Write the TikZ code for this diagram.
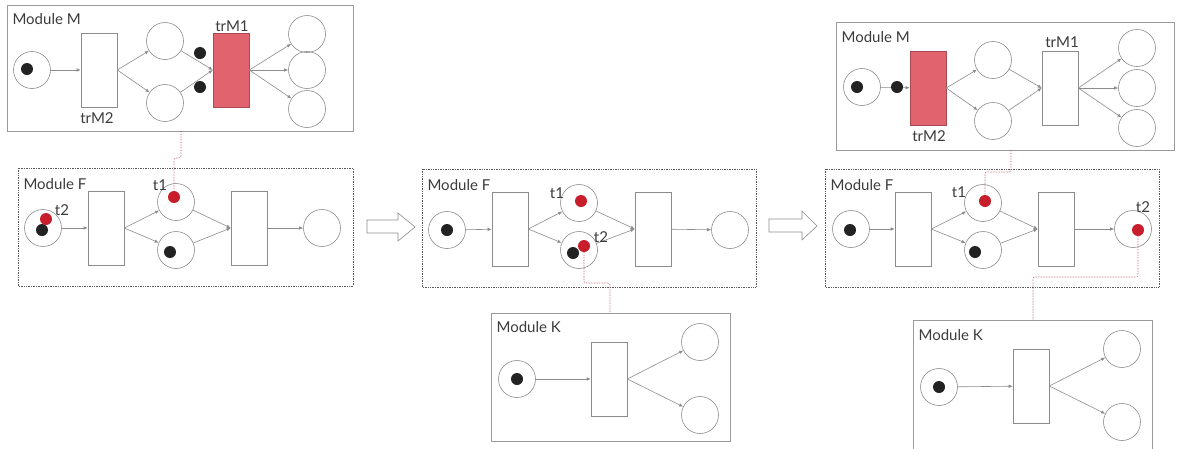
\documentclass[tikz,border=0pt]{standalone}
\usepackage{fontspec}
\setmainfont{Lato}
\usetikzlibrary{arrows.meta}

\definecolor{linegray}{HTML}{8C8C8C}
\definecolor{boxgray}{HTML}{9A9A9A}
\definecolor{ink}{HTML}{3C3C3C}
\definecolor{tokblack}{HTML}{222222}
\definecolor{tokred}{HTML}{C81E2C}
\definecolor{firered}{HTML}{E0636D}
\definecolor{linkred}{HTML}{B83A4A}

\begin{document}
\begin{tikzpicture}[x=1pt,y=-1pt,
    font=\fontsize{15}{17}\selectfont, text=ink,
    place/.style={circle,draw=linegray,line width=0.6pt,minimum size=37pt,inner sep=0pt},
    trans/.style={rectangle,draw=linegray,line width=0.6pt,minimum width=36pt,minimum height=74pt,inner sep=0pt},
    fired/.style={trans,fill=firered,draw=firered!75!black},
    tok/.style={circle,fill=tokblack,minimum size=12pt,inner sep=0pt},
    tokr/.style={circle,fill=tokred,minimum size=12pt,inner sep=0pt},
    arc/.style={draw=linegray,line width=0.6pt,-{Latex[length=4pt,width=3.5pt]}},
    module/.style={draw=boxgray,line width=0.8pt},
    fmodule/.style={draw=ink!85,line width=0.7pt,densely dotted},
    link/.style={draw=linkred,line width=0.6pt,densely dotted,rounded corners=2pt},
    bigarrow/.style={draw=linegray,line width=0.6pt,fill=white}]
    \clip (0,0) rectangle (1182,448);
    \fill[white] (0,0) rectangle (1182,448);

    % module M, before the step
    \begin{scope}[shift={(7,5)},name prefix=mA-]
        \draw[module] (0,0) rectangle (346,126);
        \coordinate (tap) at (174,126);
        \node[anchor=west] (title) at (2,14) {Module M};
        \node[place] (p0) at (25,65) {};
        \node[trans] (trM2) at (92,65) {};
        \node[place] (p1) at (158,36) {};
        \node[place] (p2) at (158,98) {};
        \node[fired] (trM1) at (224,65) {};
        \node[place] (p3) at (300,29) {};
        \node[place] (p4) at (300,65) {};
        \node[place] (p5) at (300,104) {};
        \node (lb2) at (90,113) {trM2};
        \node (lb1) at (225,21) {trM1};
        \draw[arc] (p0) -- (trM2);
        \foreach \p in {p1,p2} {
            \draw[arc] (trM2.east) -- (\p);
            \draw[arc] (\p) -- (trM1.west);
        }
        \foreach \p in {p3,p4,p5}
            \draw[arc] (trM1.east) -- (\p);
        \node[tok] (k0) at (20,64) {};
        \node[tok] (k1) at (193,48) {};
        \node[tok] (k2) at (193,82) {};
    \end{scope}

    % module F, three states
    \begin{scope}[shift={(18,168)},name prefix=fA-]
        \draw[fmodule] (0,0) rectangle (335,118);
        \node[anchor=west] (title) at (2,16) {Module F};
        \node[place] (p0) at (25,60) {};
        \node[trans] (tr1) at (88,60) {};
        \node[place] (p1) at (158,34) {};
        \node[place] (p2) at (158,82) {};
        \node[trans] (tr2) at (231,60) {};
        \node[place] (p3) at (304,60) {};
        \draw[arc] (p0) -- (tr1);
        \foreach \p in {p1,p2} {
            \draw[arc] (tr1.east) -- (\p);
            \draw[arc] (\p) -- (tr2.west);
        }
        \draw[arc] (tr2) -- (p3);
        \node[tok] (k0) at (24,62) {};
        \node[tokr] (t2) at (28,51) {};
        \node[tokr] (t1) at (156,29) {};
        \node[tok] (k1) at (152,84) {};
        \node (lt1) at (142,17) {t1};
        \node (lt2) at (44,42) {t2};
    \end{scope}

    \begin{scope}[shift={(422,169)},name prefix=fB-]
        \draw[fmodule] (0,0) rectangle (334,118);
        \node[anchor=west] (title) at (2,16) {Module F};
        \node[place] (p0) at (25,61) {};
        \node[trans] (tr1) at (88,60) {};
        \node[place] (p1) at (157,34) {};
        \node[place] (p2) at (157,81) {};
        \node[trans] (tr2) at (231,60) {};
        \node[place] (p3) at (308,61) {};
        \draw[arc] (p0) -- (tr1);
        \foreach \p in {p1,p2} {
            \draw[arc] (tr1.east) -- (\p);
            \draw[arc] (\p) -- (tr2.west);
        }
        \draw[arc] (tr2) -- (p3);
        \node[tok] (k0) at (25,61) {};
        \node[tokr] (t1) at (159,32) {};
        \node[tok] (k1) at (151,84) {};
        \node[tokr] (t2) at (162,77) {};
        \node (lt1) at (135,24) {t1};
        \node (lt2) at (179,68) {t2};
    \end{scope}

    \begin{scope}[shift={(825,169)},name prefix=fC-]
        \draw[fmodule] (0,0) rectangle (334,118);
        \node[anchor=west] (title) at (2,16) {Module F};
        \node[place] (p0) at (26,60) {};
        \node[trans] (tr1) at (88,60) {};
        \node[place] (p1) at (158,34) {};
        \node[place] (p2) at (158,81) {};
        \node[trans] (tr2) at (231,60) {};
        \node[place] (p3) at (308,60) {};
        \draw[arc] (p0) -- (tr1);
        \foreach \p in {p1,p2} {
            \draw[arc] (tr1.east) -- (\p);
            \draw[arc] (\p) -- (tr2.west);
        }
        \draw[arc] (tr2) -- (p3);
        \node[tok] (k0) at (25,61) {};
        \node[tokr] (t1) at (160,32) {};
        \node[tok] (k1) at (150,83) {};
        \node[tokr] (t2) at (313,61) {};
        \node (lt1) at (134,23) {t1};
        \node (lt2) at (318,38) {t2};
    \end{scope}

    % module K
    \begin{scope}[shift={(491,313)},name prefix=kB-]
        \draw[module] (0,0) rectangle (239,128);
        \coordinate (tap) at (119,0);
        \node[anchor=west] (title) at (2,14) {Module K};
        \node[place] (p0) at (26,66) {};
        \node[trans] (tr) at (118,66) {};
        \node[place] (p1) at (209,29) {};
        \node[place] (p2) at (209,102) {};
        \draw[arc] (p0) -- (tr);
        \draw[arc] (tr.east) -- (p1);
        \draw[arc] (tr.east) -- (p2);
        \node[tok] (k0) at (p0) {};
    \end{scope}

    % module M, after the step
    \begin{scope}[shift={(836,22)},name prefix=mC-]
        \draw[module] (0,0) rectangle (338,128);
        \coordinate (tap) at (175,128);
        \node[anchor=west] (title) at (2,15) {Module M};
        \node[place] (p0) at (26,65) {};
        \node[fired] (trM2) at (92,66) {};
        \node[place] (p1) at (157,38) {};
        \node[place] (p2) at (157,99) {};
        \node[trans] (trM1) at (224,66) {};
        \node[place] (p3) at (301,26) {};
        \node[place] (p4) at (301,66) {};
        \node[place] (p5) at (301,106) {};
        \node (lb2) at (93,114) {trM2};
        \node (lb1) at (226,20) {trM1};
        \draw[arc] (p0) -- (trM2);
        \foreach \p in {p1,p2} {
            \draw[arc] (trM2.east) -- (\p);
            \draw[arc] (\p) -- (trM1.west);
        }
        \foreach \p in {p3,p4,p5}
            \draw[arc] (trM1.east) -- (\p);
        \node[tok] (k0) at (21,65) {};
        \node[tok] (k1) at (61,65) {};
    \end{scope}

    \begin{scope}[shift={(913,320)},name prefix=kC-]
        \draw[module] (0,0) rectangle (239,140);
        \coordinate (tap) at (120,0);
        \node[anchor=west] (title) at (2,15) {Module K};
        \node[place] (p0) at (26,67) {};
        \node[trans] (tr) at (118,66) {};
        \node[place] (p1) at (209,29) {};
        \node[place] (p2) at (209,102) {};
        \draw[arc] (p0) -- (tr);
        \draw[arc] (tr.east) -- (p1);
        \draw[arc] (tr.east) -- (p2);
        \node[tok] (k0) at (p0) {};
    \end{scope}

    % links between modules
    \draw[link] (mA-tap) -- (mA-tap |- 0,158) -| (fA-t1);
    \draw[link] (fB-t2) -- (fB-t2 |- 0,283) -| (kB-tap);
    \draw[link] (mC-tap) -- (mC-tap |- 0,172) -| (fC-t1);
    \draw[link] (fC-t2) -- (fC-t2 |- 0,277) -| (kC-tap);

    % step arrows
    \draw[bigarrow] (367,220) -- (398,220) -- (398,213) -- (415,227) -- (398,241) -- (398,233) -- (367,233) -- cycle;
    \draw[bigarrow] (769,219) -- (802,219) -- (802,211) -- (817,226) -- (802,240) -- (802,232) -- (769,232) -- cycle;
\end{tikzpicture}
\end{document}
